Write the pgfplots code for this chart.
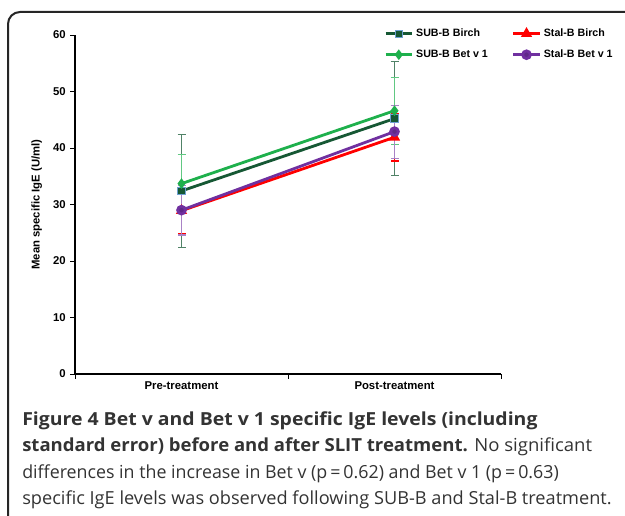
\documentclass[border=0pt]{standalone}
\usepackage{fontspec}
\setmainfont{Open Sans}
\newfontfamily\arialf{Liberation Sans}
\usepackage{pgfplots}
\pgfplotsset{compat=1.18}

\definecolor{dkgreen}{RGB}{22,88,52}
\definecolor{ltgreen}{RGB}{30,176,76}
\definecolor{mkred}{RGB}{255,0,0}
\definecolor{mkpurple}{RGB}{112,48,160}
\definecolor{mkborder}{RGB}{110,160,210}

\begin{document}
\begin{tikzpicture}
\useasboundingbox (0,0) rectangle (468.75pt,386.25pt);

% panel frame, cut off on the right and at the bottom
\draw[black!85, line width=1.5pt, rounded corners=9pt]
  (6pt,-10pt) -- (6pt,377.25pt) -- (500pt,377.25pt);

\begin{axis}[
    at={(56.25pt,105.75pt)}, anchor=south west,
    scale only axis,
    width=319.5pt, height=254.25pt,
    xmin=-0.5, xmax=1.5,
    ymin=0, ymax=60,
    axis lines=left,
    axis line style={-, black, line width=0.8pt},
    xtick={-0.5,0.5,1.5}, xticklabels={},
    extra x ticks={0,1},
    extra x tick labels={Pre-treatment, Post-treatment},
    extra x tick style={major tick length=0pt},
    ytick={0,10,...,60},
    tick align=outside,
    major tick length=3.5pt,
    tick style={black, line width=0.6pt},
    /pgf/number format/assume math mode=true,
    tick label style={font=\arialf\bfseries\fontsize{8.5}{10}\selectfont},
    xticklabel style={yshift=-2pt},
    ylabel={Mean specific IgE (U/ml)},
    ylabel style={font=\arialf\bfseries\fontsize{8.5}{10}\selectfont,
                  at={(axis description cs:-0.09,0.5)}, anchor=center},
    legend columns=2,
    legend cell align=left,
    legend style={at={(axis description cs:0.725,1.027)}, anchor=north west,
                  draw=none, fill=none,
                  font=\arialf\bfseries\fontsize{8}{9.5}\selectfont,
                  /tikz/every even column/.append style={column sep=16pt},
                  row sep=4.5pt, inner sep=0pt},
    legend image code/.code={
        \draw[mark repeat=2, mark phase=2, #1]
        plot coordinates {(0cm,0cm) (0.35cm,0cm) (0.7cm,0cm)};},
    clip=false,
]

% SUB-B Birch
\addplot[dkgreen, line width=2.1pt,
    mark=square*, mark size=2.8pt,
    mark options={fill=dkgreen, draw=mkborder, line width=0.6pt},
    error bars/.cd, y dir=both, y explicit,
    error bar style={dkgreen!75, line width=0.8pt},
    error mark options={rotate=90, mark size=3pt, dkgreen!75, line width=0.8pt}]
  coordinates {(0,32.4) +- (0,10.0) (1,45.2) +- (0,10.1)};
\addlegendentry{SUB-B Birch}

% Stal-B Birch
\addplot[mkred, line width=2.1pt,
    mark=triangle*, mark size=2.8pt, mark options={fill=mkred},
    error bars/.cd, y dir=both, y explicit,
    error bar style={mkred, line width=0.8pt},
    error mark options={rotate=90, mark size=3pt, mkred, line width=0.8pt}]
  coordinates {(0,28.9) +- (0,4.1) (1,41.9) +- (0,4.2)};
\addlegendentry{Stal-B Birch}

% SUB-B Bet v 1
\addplot[ltgreen, line width=2.1pt,
    mark=diamond*, mark size=2.3pt, mark options={fill=ltgreen},
    error bars/.cd, y dir=both, y explicit,
    error bar style={ltgreen!70, line width=0.8pt},
    error mark options={rotate=90, mark size=3pt, ltgreen!70, line width=0.8pt}]
  coordinates {(0,33.7) +- (0,5.2) (1,46.6) +- (0,5.9)};
\addlegendentry{SUB-B Bet v 1}

% Stal-B Bet v 1
\addplot[mkpurple, line width=2.1pt,
    mark=*, mark size=2.9pt, mark options={fill=mkpurple!85!black},
    error bars/.cd, y dir=both, y explicit,
    error bar style={mkpurple!60, line width=0.8pt},
    error mark options={rotate=90, mark size=3pt, mkpurple!60, line width=0.8pt}]
  coordinates {(0,29.0) +- (0,4.4) (1,42.9) +- (0,4.7)};
\addlegendentry{Stal-B Bet v 1}

\end{axis}

% caption
\begin{scope}[every node/.style={anchor=base west, inner sep=0pt, font=\fontsize{13.5}{16}\selectfont, text=black!80}]
\node at (16.5pt,67.5pt) {\scalebox{1.08}[1]{\textbf{Figure 4 Bet v and Bet v 1 specific IgE levels (including}}};
\node at (16.5pt,48pt) {\scalebox{1.03}[1]{\textbf{standard error) before and after SLIT treatment.} No significant}};
\node at (16.5pt,27.75pt) {\scalebox{0.99}[1]{differences in the increase in Bet v (p\,=\,0.62) and Bet v 1 (p\,=\,0.63)}};
\node at (16.5pt,8.25pt) {\scalebox{1.01}[1]{specific IgE levels was observed following SUB-B and Stal-B treatment.}};
\end{scope}
\end{tikzpicture}
\end{document}
